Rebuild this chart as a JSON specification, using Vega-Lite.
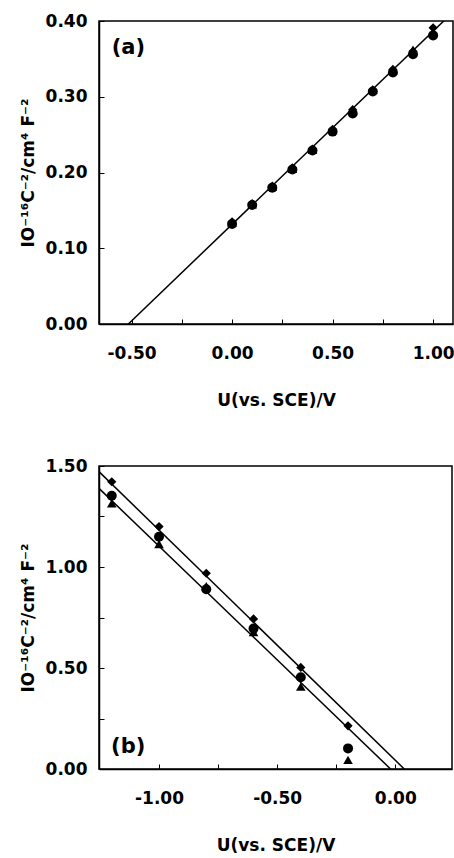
{
  "$schema": "https://vega.github.io/schema/vega-lite/v6.json",
  "background": "white",
  "padding": {"left": 18, "top": 11, "right": 0, "bottom": 0},
  "spacing": 47,
  "datasets": {
    "pointsA": [
      {"U": 0.0, "C": 0.132, "series": "circle"},
      {"U": 0.1, "C": 0.157, "series": "circle"},
      {"U": 0.2, "C": 0.180, "series": "circle"},
      {"U": 0.3, "C": 0.204, "series": "circle"},
      {"U": 0.4, "C": 0.229, "series": "circle"},
      {"U": 0.5, "C": 0.254, "series": "circle"},
      {"U": 0.6, "C": 0.278, "series": "circle"},
      {"U": 0.7, "C": 0.307, "series": "circle"},
      {"U": 0.8, "C": 0.332, "series": "circle"},
      {"U": 0.9, "C": 0.356, "series": "circle"},
      {"U": 1.0, "C": 0.381, "series": "circle"},
      {"U": 0.0, "C": 0.134, "series": "triangle"},
      {"U": 0.1, "C": 0.158, "series": "triangle"},
      {"U": 0.2, "C": 0.181, "series": "triangle"},
      {"U": 0.3, "C": 0.205, "series": "triangle"},
      {"U": 0.4, "C": 0.230, "series": "triangle"},
      {"U": 0.5, "C": 0.256, "series": "triangle"},
      {"U": 0.6, "C": 0.282, "series": "triangle"},
      {"U": 0.7, "C": 0.309, "series": "triangle"},
      {"U": 0.8, "C": 0.335, "series": "triangle"},
      {"U": 0.9, "C": 0.362, "series": "triangle"},
      {"U": 1.0, "C": 0.385, "series": "triangle"},
      {"U": 0.0, "C": 0.135, "series": "diamond"},
      {"U": 0.1, "C": 0.159, "series": "diamond"},
      {"U": 0.2, "C": 0.182, "series": "diamond"},
      {"U": 0.3, "C": 0.206, "series": "diamond"},
      {"U": 0.4, "C": 0.231, "series": "diamond"},
      {"U": 0.5, "C": 0.257, "series": "diamond"},
      {"U": 0.6, "C": 0.283, "series": "diamond"},
      {"U": 0.7, "C": 0.309, "series": "diamond"},
      {"U": 0.8, "C": 0.336, "series": "diamond"},
      {"U": 0.9, "C": 0.360, "series": "diamond"},
      {"U": 1.0, "C": 0.391, "series": "diamond"}
    ],
    "linesA": [
      {"U": -0.516, "C": 0.0, "fit": "a"},
      {"U": 1.1, "C": 0.412, "fit": "a"}
    ],
    "labelA": [{"U": -0.599, "C": 0.364, "text": "(a)"}],
    "pointsB": [
      {"U": -1.2, "C": 1.422, "series": "diamond"},
      {"U": -1.0, "C": 1.200, "series": "diamond"},
      {"U": -0.8, "C": 0.969, "series": "diamond"},
      {"U": -0.6, "C": 0.743, "series": "diamond"},
      {"U": -0.4, "C": 0.503, "series": "diamond"},
      {"U": -0.2, "C": 0.214, "series": "diamond"},
      {"U": -1.2, "C": 1.353, "series": "circle"},
      {"U": -1.0, "C": 1.150, "series": "circle"},
      {"U": -0.8, "C": 0.890, "series": "circle"},
      {"U": -0.6, "C": 0.695, "series": "circle"},
      {"U": -0.4, "C": 0.454, "series": "circle"},
      {"U": -0.2, "C": 0.102, "series": "circle"},
      {"U": -1.2, "C": 1.315, "series": "triangle"},
      {"U": -1.0, "C": 1.114, "series": "triangle"},
      {"U": -0.8, "C": 0.905, "series": "triangle"},
      {"U": -0.6, "C": 0.678, "series": "triangle"},
      {"U": -0.4, "C": 0.408, "series": "triangle"},
      {"U": -0.2, "C": 0.045, "series": "triangle"}
    ],
    "linesB": [
      {"U": -1.26, "C": 1.479, "fit": "upper"},
      {"U": 0.038, "C": 0.0, "fit": "upper"},
      {"U": -1.26, "C": 1.396, "fit": "lower"},
      {"U": -0.02, "C": 0.0, "fit": "lower"}
    ],
    "labelB": [{"U": -1.203, "C": 0.11, "text": "(b)"}]
  },
  "vconcat": [
    {
      "width": 354,
      "height": 303,
      "layer": [
        {
          "data": {"name": "linesA"},
          "mark": {"type": "line", "color": "black", "strokeWidth": 1.5, "clip": true},
          "encoding": {
            "x": {"field": "U", "type": "quantitative", "scale": {"domain": [-0.662, 1.099], "nice": false, "zero": false},
              "axis": {"title": "U(vs. SCE)/V", "values": [-0.5, -0.25, 0, 0.25, 0.5, 0.75, 1.0],
                "labelExpr": "round(datum.value*100) % 50 == 0 ? replace(format(datum.value, '.2f'), '\u2212', '-') : ''"}},
            "y": {"field": "C", "type": "quantitative", "scale": {"domain": [0, 0.4], "nice": false},
              "axis": {"title": "IO\u207b\u00b9\u2076C\u207b\u00b2/cm\u2074 F\u207b\u00b2", "values": [0, 0.05, 0.1, 0.15, 0.2, 0.25, 0.3, 0.35, 0.4],
                "labelExpr": "round(datum.value*100) % 10 == 0 ? format(datum.value, '.2f') : ''"}},
            "detail": {"field": "fit"}
          }
        },
        {
          "data": {"name": "pointsA"},
          "mark": {"type": "point", "filled": true, "color": "black", "opacity": 1, "clip": true},
          "encoding": {
            "x": {"field": "U", "type": "quantitative"},
            "y": {"field": "C", "type": "quantitative"},
            "shape": {"field": "series", "type": "nominal", "legend": null,
              "scale": {"domain": ["circle", "triangle", "diamond"], "range": ["circle", "triangle-up", "diamond"]}},
            "size": {"field": "series", "type": "nominal", "legend": null,
              "scale": {"domain": ["circle", "triangle", "diamond"], "range": [100, 85, 60]}}
          }
        },
        {
          "data": {"name": "labelA"},
          "mark": {"type": "text", "align": "left", "baseline": "middle", "font": "DejaVu Sans", "fontWeight": "bold", "fontSize": 21, "color": "black"},
          "encoding": {
            "x": {"field": "U", "type": "quantitative"},
            "y": {"field": "C", "type": "quantitative"},
            "text": {"field": "text"}
          }
        }
      ]
    },
    {
      "width": 353,
      "height": 303,
      "layer": [
        {
          "data": {"name": "linesB"},
          "mark": {"type": "line", "color": "black", "strokeWidth": 1.5, "clip": true},
          "encoding": {
            "x": {"field": "U", "type": "quantitative", "scale": {"domain": [-1.254, 0.24], "nice": false, "zero": false},
              "axis": {"title": "U(vs. SCE)/V", "values": [-1.0, -0.75, -0.5, -0.25, 0],
                "labelExpr": "round(datum.value*100) % 50 == 0 ? replace(format(datum.value, '.2f'), '\u2212', '-') : ''"}},
            "y": {"field": "C", "type": "quantitative", "scale": {"domain": [0, 1.5], "nice": false},
              "axis": {"title": "IO\u207b\u00b9\u2076C\u207b\u00b2/cm\u2074 F\u207b\u00b2", "values": [0, 0.25, 0.5, 0.75, 1.0, 1.25, 1.5],
                "labelExpr": "round(datum.value*100) % 50 == 0 ? format(datum.value, '.2f') : ''"}},
            "detail": {"field": "fit"}
          }
        },
        {
          "data": {"name": "pointsB"},
          "mark": {"type": "point", "filled": true, "color": "black", "opacity": 1, "clip": true},
          "encoding": {
            "x": {"field": "U", "type": "quantitative"},
            "y": {"field": "C", "type": "quantitative"},
            "shape": {"field": "series", "type": "nominal", "legend": null,
              "scale": {"domain": ["circle", "triangle", "diamond"], "range": ["circle", "triangle-up", "diamond"]}},
            "size": {"field": "series", "type": "nominal", "legend": null,
              "scale": {"domain": ["circle", "triangle", "diamond"], "range": [90, 80, 55]}}
          }
        },
        {
          "data": {"name": "labelB"},
          "mark": {"type": "text", "align": "left", "baseline": "middle", "font": "DejaVu Sans", "fontWeight": "bold", "fontSize": 21, "color": "black"},
          "encoding": {
            "x": {"field": "U", "type": "quantitative"},
            "y": {"field": "C", "type": "quantitative"},
            "text": {"field": "text"}
          }
        }
      ]
    }
  ],
  "config": {
    "view": {"stroke": "black", "strokeWidth": 1.5},
    "axis": {
      "grid": false,
      "domainColor": "black",
      "domainWidth": 1.5,
      "tickColor": "black",
      "tickWidth": 1,
      "tickSize": -5,
      "labelFont": "DejaVu Sans",
      "labelFontWeight": "bold",
      "labelFontSize": 17,
      "labelColor": "black",
      "titleFont": "DejaVu Sans",
      "titleFontWeight": "bold",
      "titleFontSize": 17,
      "titleColor": "black"
    },
    "axisX": {"labelPadding": 26, "titlePadding": 31},
    "axisY": {"labelPadding": 17, "titlePadding": 8, "titleFontSize": 17}
  }
}
